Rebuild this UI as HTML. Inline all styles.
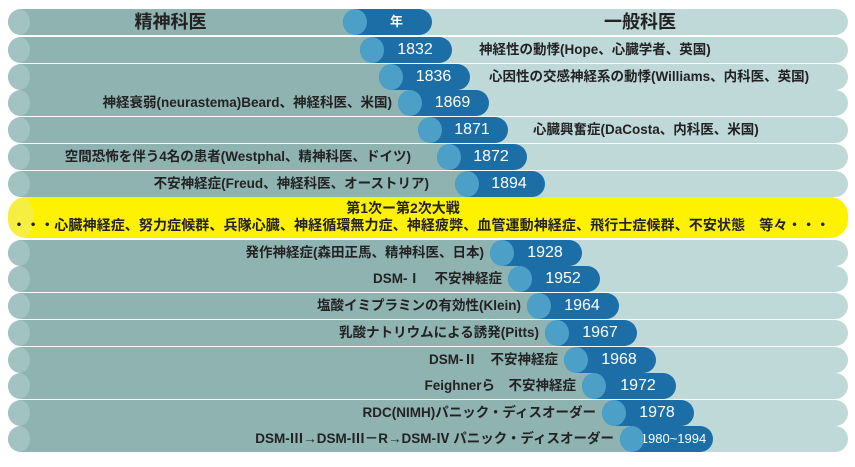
<!DOCTYPE html>
<html><head><meta charset="utf-8"><style>
body{margin:0;width:855px;height:467px;background:#fff;position:relative;overflow:hidden;font-family:"Liberation Sans","Noto Sans CJK JP",sans-serif;}
.r{position:absolute;left:8px;width:840px;height:26px;border-radius:13px;background:#bfd9d9;overflow:hidden}
.l{position:absolute;left:0;top:0;height:26px;border-radius:13px;background:#8fb3b1}
.cap{position:absolute;left:0;top:0;width:22px;height:26px;border-radius:50%;background:#a3c2c2}
.p{position:absolute;top:0;height:26px;border-radius:13px;background:#1c6ea6;color:#fff;font-size:16px;line-height:26px;text-align:center;text-indent:18px}
.c{position:absolute;top:0;width:24px;height:26px;border-radius:50%;background:#4c9fc6}
.t{position:absolute;top:0;line-height:26px;font-size:13.5px;font-weight:bold;color:#222;white-space:nowrap}
.tl{text-align:right}
</style></head><body>

<div class="r" style="top:9px"><div class="l" style="width:355px"></div><div class="cap"></div><div class="p" style="left:335px;width:89px;font-size:13px;font-weight:bold">年</div><div class="c" style="left:335px"></div>
<div class="t" style="left:0;width:335px;text-align:center;font-size:18px;text-indent:-10px">精神科医</div>
<div class="t" style="left:424px;width:416px;text-align:center;font-size:18px">一般科医</div></div>

<div class="r" style="top:37px"><div class="l" style="width:372px"></div><div class="cap"></div><div class="p" style="left:352px;width:92px">1832</div><div class="c" style="left:352px"></div>
<div class="t" style="left:471px">神経性の動悸(Hope、心臓学者、英国)</div></div>

<div class="r" style="top:64px"><div class="l" style="width:391px"></div><div class="cap"></div><div class="p" style="left:371px;width:91px">1836</div><div class="c" style="left:371px"></div>
<div class="t" style="left:481px">心因性の交感神経系の動悸(Williams、内科医、英国)</div></div>

<div class="r" style="top:90px"><div class="l" style="width:410px"></div><div class="cap"></div><div class="p" style="left:390px;width:91px">1869</div><div class="c" style="left:390px"></div>
<div class="t tl" style="right:456px">神経衰弱(neurastema)Beard、神経科医、米国)</div></div>

<div class="r" style="top:117px"><div class="l" style="width:430px"></div><div class="cap"></div><div class="p" style="left:410px;width:90px">1871</div><div class="c" style="left:410px"></div>
<div class="t" style="left:525px">心臓興奮症(DaCosta、内科医、米国)</div></div>

<div class="r" style="top:144px"><div class="l" style="width:449px"></div><div class="cap"></div><div class="p" style="left:429px;width:90px">1872</div><div class="c" style="left:429px"></div>
<div class="t tl" style="right:437px">空間恐怖を伴う4名の患者(Westphal、精神科医、ドイツ)</div></div>

<div class="r" style="top:171px"><div class="l" style="width:467px"></div><div class="cap"></div><div class="p" style="left:447px;width:90px">1894</div><div class="c" style="left:447px"></div>
<div class="t tl" style="right:419px">不安神経症(Freud、神経科医、オーストリア)</div></div>

<div style="position:absolute;left:8px;top:197px;width:840px;height:41px;border-radius:18px;background:#fff200;overflow:hidden">
<div style="position:absolute;left:0;top:0;width:26px;height:41px;border-radius:50%;background:#f6ee40"></div>
<div class="t" style="left:0;width:840px;top:2px;line-height:18px;text-align:center;text-indent:-50px;font-size:14px">第1次ー第2次大戦</div>
<div class="t" style="left:4px;top:19px;line-height:18px;font-size:14px;letter-spacing:0.1px">・・・心臓神経症、努力症候群、兵隊心臓、神経循環無力症、神経疲弊、血管運動神経症、飛行士症候群、不安状態　等々・・・</div></div>

<div class="r" style="top:240px"><div class="l" style="width:502px"></div><div class="cap"></div><div class="p" style="left:482px;width:92px">1928</div><div class="c" style="left:482px"></div>
<div class="t tl" style="right:364px">発作神経症(森田正馬、精神科医、日本)</div></div>

<div class="r" style="top:266px"><div class="l" style="width:520px"></div><div class="cap"></div><div class="p" style="left:500px;width:92px">1952</div><div class="c" style="left:500px"></div>
<div class="t tl" style="right:346px">DSM-Ⅰ　不安神経症</div></div>

<div class="r" style="top:293px"><div class="l" style="width:539px"></div><div class="cap"></div><div class="p" style="left:519px;width:92px">1964</div><div class="c" style="left:519px"></div>
<div class="t tl" style="right:327px">塩酸イミプラミンの有効性(Klein)</div></div>

<div class="r" style="top:320px"><div class="l" style="width:557px"></div><div class="cap"></div><div class="p" style="left:537px;width:92px">1967</div><div class="c" style="left:537px"></div>
<div class="t tl" style="right:309px">乳酸ナトリウムによる誘発(Pitts)</div></div>

<div class="r" style="top:347px"><div class="l" style="width:576px"></div><div class="cap"></div><div class="p" style="left:556px;width:92px">1968</div><div class="c" style="left:556px"></div>
<div class="t tl" style="right:290px">DSM-Ⅱ　不安神経症</div></div>

<div class="r" style="top:373px"><div class="l" style="width:594px"></div><div class="cap"></div><div class="p" style="left:574px;width:94px">1972</div><div class="c" style="left:574px"></div>
<div class="t tl" style="right:272px">Feighnerら　不安神経症</div></div>

<div class="r" style="top:400px"><div class="l" style="width:614px"></div><div class="cap"></div><div class="p" style="left:594px;width:92px">1978</div><div class="c" style="left:594px"></div>
<div class="t tl" style="right:252px">RDC(NIMH)パニック・ディスオーダー</div></div>

<div class="r" style="top:426px"><div class="l" style="width:632px"></div><div class="cap"></div><div class="p" style="left:612px;width:93px;font-size:13px;text-indent:14px">1980~1994</div><div class="c" style="left:612px"></div>
<div class="t tl" style="right:234px">DSM-Ⅲ→DSM-Ⅲ－R→DSM-Ⅳ パニック・ディスオーダー</div></div>

</body></html>
